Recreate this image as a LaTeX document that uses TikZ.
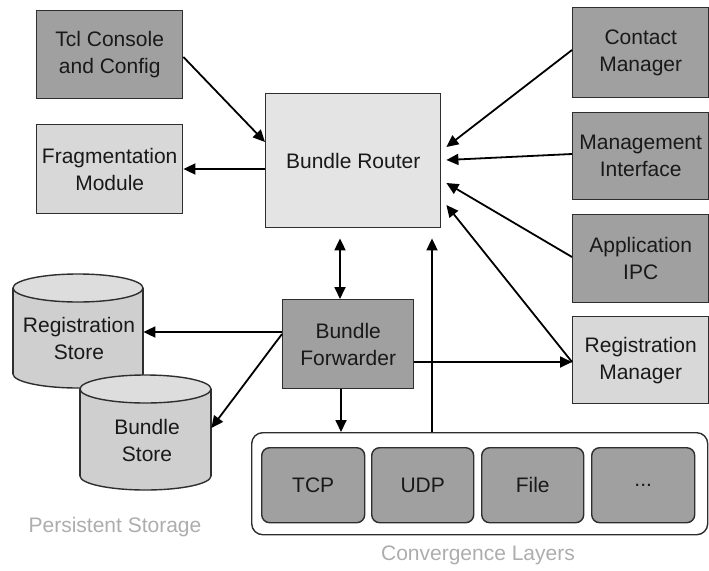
\documentclass[tikz,border=0pt]{standalone}
\usepackage{fontspec}
\setmainfont{Liberation Sans}
\usetikzlibrary{arrows.meta,calc}
\definecolor{darkfill}{HTML}{A0A0A0}
\definecolor{lightfill}{HTML}{D8D8D8}
\definecolor{routerfill}{HTML}{E4E4E4}
\definecolor{cylfill}{HTML}{CFCFCF}
\definecolor{cyltop}{HTML}{DDDDDD}
\definecolor{edge}{HTML}{2E2E2E}
\definecolor{caption}{HTML}{ADADAD}
\begin{document}
\begin{tikzpicture}[x=1pt,y=-1pt,
  lbl/.style={font=\fontsize{21}{27}\selectfont, align=center, text=black!90},
  box/.style={lbl, draw=edge, line width=1.4pt, inner sep=0pt, anchor=north west},
  dark/.style={box, fill=darkfill},
  light/.style={box, fill=lightfill},
  layer/.style={box, fill=darkfill, rounded corners=8pt},
  cyl/.style={draw=edge, line width=1.4pt},
  arr/.style={line width=1.8pt, -{Triangle[length=12pt,width=11pt]}},
  biarr/.style={line width=1.8pt, {Triangle[length=12pt,width=11pt]}-{Triangle[length=12pt,width=11pt]}},
  capt/.style={font=\fontsize{21}{27}\selectfont, text=caption}
]
\useasboundingbox (0,0) rectangle (709,570);

% left column
\node[dark, minimum width=146pt, minimum height=88pt] (tcl) at (36,10) {Tcl Console\\and Config};
\node[light, minimum width=146pt, minimum height=89pt] (frag) at (36,124) {Fragmentation\\Module};

% router and forwarder
\node[box, fill=routerfill, minimum width=175pt, minimum height=134pt] (router) at (265,93) {Bundle Router};
\node[dark, minimum width=131pt, minimum height=89pt] (bf) at (282,299) {Bundle\\Forwarder};

% right column
\node[dark, minimum width=136pt, minimum height=90pt] (cm) at (572,7) {Contact\\Manager};
\node[dark, minimum width=136pt, minimum height=87pt] (mi) at (572,112) {Management\\Interface};
\node[dark, minimum width=136pt, minimum height=88pt] (app) at (572,214) {Application\\IPC};
\node[light, minimum width=136pt, minimum height=87pt] (rm) at (572,316) {Registration\\Manager};

% persistent storage cylinders
\node[minimum width=130pt, minimum height=114pt, inner sep=0pt, anchor=north west] (rs) at (13,274) {};
\filldraw[cyl, fill=cylfill] (78,374) ellipse[x radius=65, y radius=14];
\fill[cylfill] (13,288) rectangle (143,374);
\draw[cyl] (13,288) -- (13,374) (143,288) -- (143,374);
\filldraw[cyl, fill=cyltop] (78,288) ellipse[x radius=65, y radius=14];
\node[lbl] (rstext) at (79,338) {Registration\\Store};

\node[minimum width=131pt, minimum height=115pt, inner sep=0pt, anchor=north west] (bs) at (80,375) {};
\filldraw[cyl, fill=cylfill] (145.5,476) ellipse[x radius=65.5, y radius=14];
\fill[cylfill] (80,389) rectangle (211,476);
\draw[cyl] (80,389) -- (80,476) (211,389) -- (211,476);
\filldraw[cyl, fill=cyltop] (145.5,389) ellipse[x radius=65.5, y radius=14];
\node[lbl] (bstext) at (147,440) {Bundle\\Store};

\node[capt] (ps) at (115,527) {Persistent Storage};

% convergence layers
\node[box, fill=white, rounded corners=11pt, minimum width=456pt, minimum height=102pt] (conv) at (251,432) {};
\node[layer, minimum width=103pt, minimum height=75pt] (tcp) at (261,447) {TCP};
\node[layer, minimum width=102pt, minimum height=75pt] (udp) at (371,447) {UDP};
\node[layer, minimum width=102pt, minimum height=75pt] (file) at (481,447) {File};
\node[layer, minimum width=103pt, minimum height=75pt] (more) at (591,447) {...};
\node[capt] (cl) at (478,555) {Convergence Layers};

% connectors
\draw[arr] ($(tcl.north east)+(0,47)$) -- ($(router.north west)+(0,49)$);
\draw[arr] ($(router.north west)+(0,76)$) -- ($(frag.north east)+(0,45)$);
\draw[arr] ($(cm.north west)+(0,43)$) -- ($(router.north east)+(5,54)$);
\draw[arr] ($(mi.north west)+(0,42)$) -- ($(router.north east)+(5,67)$);
\draw[arr] ($(app.north west)+(0,43)$) -- ($(router.north east)+(5,90)$);
\draw[arr] ($(rm.north west)+(0,46)$) -- ($(router.north east)+(5,112)$);
\draw[biarr] ($(router.south west)+(75,10)$) -- ($(bf.north west)+(58,0)$);
\draw[arr] ($(conv.north west)+(181,0)$) -- ($(router.south west)+(167,10)$);
\draw[arr] ($(bf.north east)+(0,63)$) -- ($(rm.north west)+(0,46)$);
\draw[arr] ($(bf.north west)+(0,33)$) -- ($(rs.north east)+(0,58)$);
\draw[arr] ($(bf.north west)+(0,35)$) -- ($(bs.north east)+(0,53)$);
\draw[arr] ($(bf.south west)+(59,0)$) -- ($(conv.north west)+(90,0)$);
\end{tikzpicture}
\end{document}
